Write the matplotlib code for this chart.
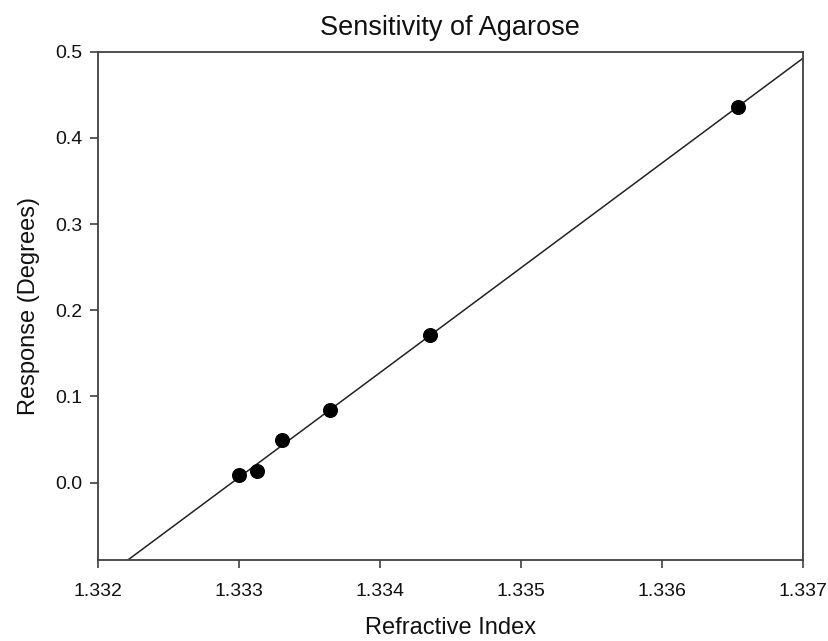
import numpy as np
import matplotlib
matplotlib.use("Agg")
import matplotlib.pyplot as plt

plt.rcParams['font.family'] = ['Liberation Sans', 'DejaVu Sans']

# Measured refractive index vs. angular response of the agarose layer
refractive_index = [1.33300, 1.33313, 1.33331, 1.33365, 1.33436, 1.33654]
response_deg = [0.0089, 0.0139, 0.0492, 0.0840, 0.1713, 0.4362]

x_ticks = [1.332, 1.333, 1.334, 1.335, 1.336, 1.337]
x_tick_labels = ["1.332", "1.333", "1.334", "1.335", "1.336", "1.337"]
y_ticks = [0.0, 0.1, 0.2, 0.3, 0.4, 0.5]
y_tick_labels = ["0.0", "0.1", "0.2", "0.3", "0.4", "0.5"]

fig = plt.figure(figsize=(8.29, 6.41), dpi=100)
ax = fig.add_axes([0.1179, 0.1264, 0.8504, 0.7929])

x_min, x_max = 1.332, 1.337
y_min, y_max = -0.0897, 0.5

# Linear regression line across the full x range
slope, intercept = np.polyfit(refractive_index, response_deg, 1)
xf = np.array([x_min, x_max])
ax.plot(xf, slope * xf + intercept, color='#222222', lw=1.1, zorder=2)

ax.plot(refractive_index, response_deg, 'o', color='black', markersize=9.8,
        zorder=3, clip_on=False)

ax.set_xlim(x_min, x_max)
ax.set_ylim(y_min, y_max)
ax.set_xticks(x_ticks)
ax.set_xticklabels(x_tick_labels)
ax.set_yticks(y_ticks)
ax.set_yticklabels(y_tick_labels)

axis_color = '#404040'
for s in ax.spines.values():
    s.set_color(axis_color)
    s.set_linewidth(1.3)
ax.tick_params(direction='out', length=6, width=1.2, color=axis_color,
               labelsize=14, labelcolor='#111111', pad=5)
ax.tick_params(axis='x', pad=10.5)

ax.set_title("Sensitivity of Agarose", fontsize=19.5, color='#111111', pad=12)
ax.set_xlabel("Refractive Index", fontsize=17, color='#111111', labelpad=12)
ax.set_ylabel("Response (Degrees)", fontsize=17, color='#111111', labelpad=11)

fig.savefig("out.png", dpi=100, facecolor='white')
